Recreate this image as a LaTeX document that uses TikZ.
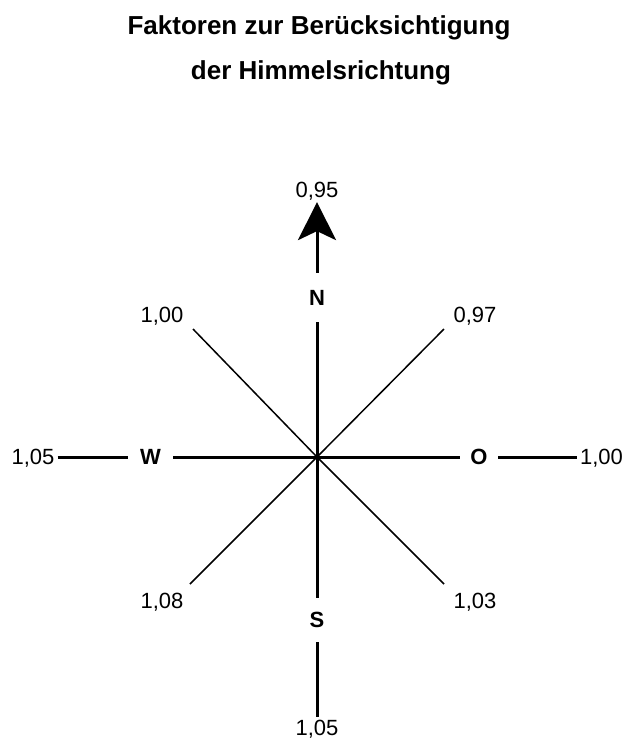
\documentclass[tikz,border=0pt]{standalone}
\usepackage{fontspec}
\setmainfont{Liberation Sans}
\usetikzlibrary{arrows.meta}

\begin{document}
\begin{tikzpicture}[x=1pt,y=-1pt,>={Stealth[length=38pt,width=38pt,inset=9pt]},
  axis/.style={line width=3pt},
  diag/.style={line width=1.5pt},
  headline/.style={font=\fontsize{26}{30}\selectfont\bfseries,anchor=base,inner sep=0pt},
  dirlbl/.style={font=\fontsize{22}{26}\selectfont\bfseries,text height=15.8pt,text depth=0pt},
  val/.style={font=\fontsize{22}{26}\selectfont,inner sep=3pt,text height=15.8pt,text depth=0pt}]
\useasboundingbox (0,0) rectangle (628,740);
% title
\node[headline] (title1) at (319,34) {Faktoren zur Berücksichtigung};
\node[headline] (title2) at (321,79) {der Himmelsrichtung};
% directions
\coordinate (c) at (317,457);
\node[dirlbl,inner xsep=2pt,inner ysep=16.5pt] (nN) at (317,297.5) {N};
\node[dirlbl,inner xsep=2pt,inner ysep=14pt] (nS) at (317,620) {S};
\node[dirlbl,inner xsep=12pt,inner ysep=2pt] (nW) at (150.5,457) {W};
\node[dirlbl,inner xsep=10.5pt,inner ysep=2pt] (nO) at (479,457) {O};
% factors
\node[val,inner ysep=4pt] (vN) at (317,190) {0,95};
\node[val] (vS) at (317,728) {1,05};
\node[val] (vW) at (33,457) {1,05};
\node[val] (vO) at (601.5,457) {1,00};
\node[val] (vNW) at (162,315) {1,00};
\node[val] (vNE) at (475,315) {0,97};
\node[val] (vSW) at (162,601) {1,08};
\node[val] (vSE) at (475,601) {1,03};
\coordinate (dNW) at (193,329);
\coordinate (dNE) at (444,329);
\coordinate (dSW) at (190,584);
\coordinate (dSE) at (444,584);
% lines
\draw[diag] (dNW) -- (c) -- (dSE);
\draw[diag] (dNE) -- (c) -- (dSW);
\draw[axis,->] (nN) -- (vN);
\draw[axis] (nN) -- (nS);
\draw[axis] (nS) -- (vS);
\draw[axis] (vW) -- (nW);
\draw[axis] (nW) -- (nO);
\draw[axis] (nO) -- (vO);
\end{tikzpicture}
\end{document}
